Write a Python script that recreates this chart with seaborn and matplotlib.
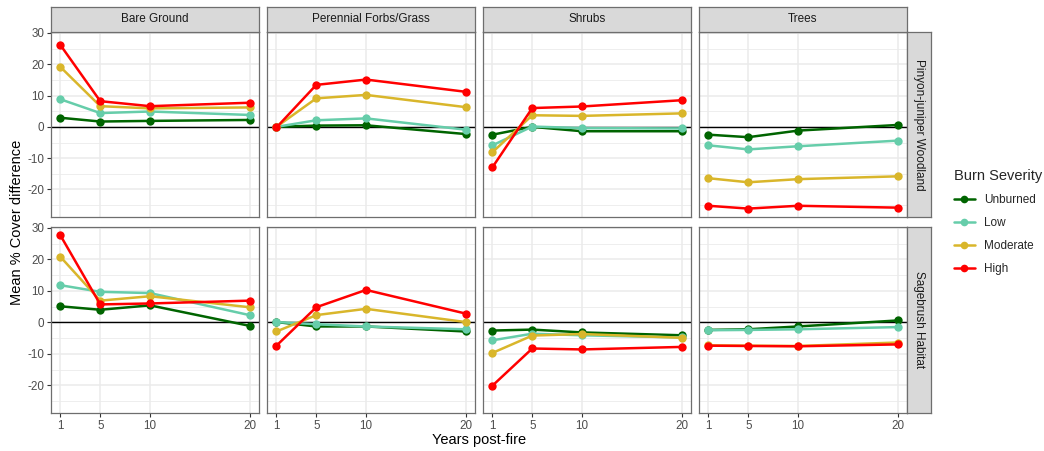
import numpy as np
import pandas as pd
import seaborn as sns
import matplotlib.pyplot as plt
from matplotlib.lines import Line2D

# data (mean % cover difference)
years = [1, 5, 10, 20]
severities = ["Unburned", "Low", "Moderate", "High"]
cover_types = ["Bare Ground", "Perennial Forbs/Grass", "Shrubs", "Trees"]
habitats = ["Pinyon-juniper Woodland", "Sagebrush Habitat"]
colors = ["#006400", "#66CDAA", "#D9B62B", "#FF0000"]

# rows = Unburned, Low, Moderate, High
pj_bare = [[2.9, 1.7, 1.9, 2.2], [8.8, 4.4, 4.9, 3.8], [19.1, 6.6, 5.9, 6.2], [26.1, 8.2, 6.6, 7.7]]
pj_forbs = [[0.0, 0.4, 0.5, -2.3], [0.0, 2.1, 2.7, -0.9], [0.0, 9.1, 10.2, 6.3], [-0.2, 13.4, 15.1, 11.2]]
pj_shrubs = [[-2.5, 0.0, -1.4, -1.4], [-5.9, 0.1, -0.4, -0.5], [-8.1, 3.7, 3.5, 4.3], [-12.9, 6.0, 6.5, 8.5]]
pj_trees = [[-2.5, -3.3, -1.2, 0.6], [-5.9, -7.2, -6.2, -4.4], [-16.4, -17.7, -16.7, -15.8], [-25.2, -26.1, -25.2, -25.8]]
sh_bare = [[5.1, 4.0, 5.4, -1.1], [11.8, 9.7, 9.3, 2.3], [20.8, 6.9, 8.3, 4.8], [27.6, 5.7, 6.0, 6.9]]
sh_forbs = [[0.1, -1.3, -1.3, -2.9], [0.1, -0.6, -1.3, -2.2], [-2.9, 2.3, 4.3, 0.1], [-7.4, 4.8, 10.3, 2.8]]
sh_shrubs = [[-2.6, -2.3, -3.2, -4.1], [-5.7, -3.6, -4.1, -4.8], [-9.7, -4.2, -3.7, -4.9], [-20.1, -8.3, -8.6, -7.8]]
sh_trees = [[-2.4, -2.2, -1.3, 0.6], [-2.5, -2.4, -2.2, -1.5], [-7.3, -7.4, -7.5, -6.4], [-7.4, -7.5, -7.6, -7.0]]

panels = {
    ("Pinyon-juniper Woodland", "Bare Ground"): pj_bare,
    ("Pinyon-juniper Woodland", "Perennial Forbs/Grass"): pj_forbs,
    ("Pinyon-juniper Woodland", "Shrubs"): pj_shrubs,
    ("Pinyon-juniper Woodland", "Trees"): pj_trees,
    ("Sagebrush Habitat", "Bare Ground"): sh_bare,
    ("Sagebrush Habitat", "Perennial Forbs/Grass"): sh_forbs,
    ("Sagebrush Habitat", "Shrubs"): sh_shrubs,
    ("Sagebrush Habitat", "Trees"): sh_trees,
}

rows = []
for (hab, cov), vals in panels.items():
    for sev, series in zip(severities, vals):
        for yr, v in zip(years, series):
            rows.append({"habitat": hab, "cover": cov, "severity": sev, "year": yr, "diff": v})
df = pd.DataFrame(rows)

sns.set_style("white")
plt.rcParams["font.family"] = ["Liberation Sans", "DejaVu Sans"]
plt.rcParams["axes.unicode_minus"] = False

W, H = 1044, 451
fig = plt.figure(figsize=(W / 100, H / 100), dpi=100)


def rect(x0, x1, y0, y1):
    return [x0 / W, 1 - y1 / H, (x1 - x0) / W, (y1 - y0) / H]


col_x = [(51, 259), (267, 475), (483, 691), (699, 907)]
row_y = [(32, 217), (227, 413)]
border = "#6E6E6E"

ymin, ymax = df["diff"].min(), df["diff"].max()
ypad = (ymax - ymin) * 0.05
xpad = (max(years) - min(years)) * 0.05

for ri, hab in enumerate(habitats):
    for ci, cov in enumerate(cover_types):
        ax = fig.add_axes(rect(col_x[ci][0], col_x[ci][1], row_y[ri][0], row_y[ri][1]))
        sub = df[(df.habitat == hab) & (df.cover == cov)]
        ax.axhline(0, color="black", lw=1.0, zorder=1)
        sns.lineplot(data=sub, x="year", y="diff", hue="severity", hue_order=severities,
                     palette=colors, marker="o", markersize=6, markeredgewidth=0,
                     linewidth=1.8, legend=False, ax=ax, zorder=3)
        ax.set_xlim(min(years) - xpad, max(years) + xpad)
        ax.set_ylim(ymin - ypad, ymax + ypad)
        ax.set_xticks(years)
        ax.set_yticks([-20, -10, 0, 10, 20, 30])
        ax.set_yticks([-25, -15, -5, 5, 15, 25], minor=True)
        ax.grid(True, which="major", color="#EBEBEB", lw=1.1, zorder=0)
        ax.grid(True, which="minor", axis="y", color="#EBEBEB", lw=0.6, zorder=0)
        ax.set_axisbelow(True)
        ax.set_xlabel("")
        ax.set_ylabel("")
        for s in ax.spines.values():
            s.set_color(border)
            s.set_linewidth(0.9)
        ax.tick_params(which="major", length=3, width=0.8, color="#333333",
                       labelsize=8.4, labelcolor="#4D4D4D", pad=2)
        ax.tick_params(which="minor", length=0)
        ax.tick_params(axis="x", bottom=(ri == 1), labelbottom=(ri == 1))
        ax.tick_params(axis="y", left=(ci == 0), labelleft=(ci == 0))

        # top strips
        if ri == 0:
            sax = fig.add_axes(rect(col_x[ci][0], col_x[ci][1], 7, 32))
            sax.set_facecolor("#D9D9D9")
            sax.set_xticks([])
            sax.set_yticks([])
            for s in sax.spines.values():
                s.set_color(border)
                s.set_linewidth(0.9)
            sax.text(0.5, 0.5, cov, ha="center", va="center", fontsize=8.5, color="#1A1A1A",
                     transform=sax.transAxes)
    # right strips
    sax = fig.add_axes(rect(907, 931, row_y[ri][0], row_y[ri][1]))
    sax.set_facecolor("#D9D9D9")
    sax.set_xticks([])
    sax.set_yticks([])
    for s in sax.spines.values():
        s.set_color(border)
        s.set_linewidth(0.9)
    sax.text(0.5, 0.5, hab, ha="center", va="center", fontsize=8.5, color="#1A1A1A",
             rotation=-90, transform=sax.transAxes)

fig.text(17 / W, 1 - 222 / H, "Mean % Cover difference", rotation=90, ha="center", va="center",
         fontsize=10.5, color="black")
fig.text(479 / W, 1 - 440 / H, "Years post-fire", ha="center", va="center",
         fontsize=10.5, color="black")

handles = [Line2D([0], [0], color=c, lw=1.8, marker="o", markersize=5.5, markeredgewidth=0)
           for c in colors]
leg = fig.legend(handles, severities, title="Burn Severity", loc="upper left",
                 bbox_to_anchor=(943 / W, 1 - 158 / H), frameon=False, fontsize=8.5,
                 title_fontsize=10.5, handlelength=1.8, handletextpad=0.8, labelspacing=0.95,
                 alignment="left")

fig.savefig("out.png", dpi=100)
